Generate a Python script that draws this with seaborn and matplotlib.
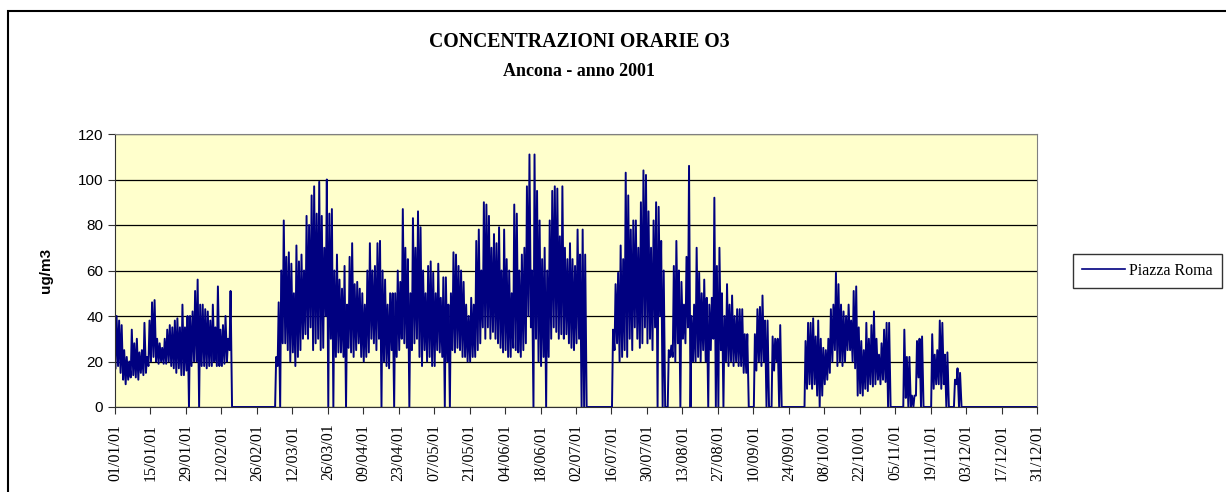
import numpy as np
import pandas as pd
import seaborn as sns
import matplotlib.pyplot as plt
import matplotlib.dates as mdates
from matplotlib.patches import Rectangle

# daily max / min of the hourly O3 values (ug/m3); 0 = no data
max_jan = [40, 38, 36, 25, 22, 20, 34, 28, 30, 24, 25, 37, 22, 38, 46, 47, 30, 28, 26, 30,
           34, 36, 35, 38, 39, 35, 45, 35, 40, 40, 42]
min_jan = [17, 18, 15, 12, 10, 12, 13, 14, 13, 12, 15, 14, 15, 18, 20, 22, 20, 19, 20, 19,
           19, 20, 18, 17, 15, 17, 14, 14, 16, 0, 18]
max_feb = [51, 56, 45, 45, 43, 42, 38, 45, 35, 53, 34, 36, 40, 30, 51,
           0, 0, 0, 0, 0, 0, 0, 0, 0, 0, 0, 0, 0]
min_feb = [20, 20, 0, 18, 18, 17, 18, 18, 20, 18, 18, 18, 19, 20, 25,
           0, 0, 0, 0, 0, 0, 0, 0, 0, 0, 0, 0, 0]
max_mar = [0, 0, 0, 0, 22, 46, 60, 82, 66, 68, 63, 50, 71, 64, 67, 60, 84, 80, 93, 97,
           85, 99, 84, 70, 100, 85, 87, 60, 67, 56, 52]
min_mar = [0, 0, 0, 0, 0, 18, 0, 28, 28, 25, 20, 24, 18, 22, 25, 30, 32, 30, 35, 25,
           28, 30, 25, 26, 40, 0, 30, 0, 22, 24, 24]
max_apr = [62, 45, 66, 72, 54, 55, 52, 50, 45, 60, 72, 60, 62, 72, 73, 60, 56, 45, 50, 50,
           50, 60, 55, 87, 70, 65, 50, 83, 70, 86]
min_apr = [22, 0, 26, 24, 22, 25, 28, 22, 20, 22, 24, 30, 28, 25, 30, 0, 20, 18, 17, 25,
           0, 22, 25, 30, 28, 26, 0, 25, 28, 30]
max_may = [79, 60, 50, 62, 64, 59, 50, 63, 48, 57, 57, 45, 50, 68, 67, 62, 60, 55, 45, 40,
           48, 45, 73, 78, 60, 90, 89, 84, 70, 76, 72]
min_may = [22, 18, 25, 20, 22, 18, 18, 25, 24, 22, 0, 20, 0, 25, 24, 26, 25, 22, 22, 20,
           20, 22, 22, 25, 28, 35, 30, 35, 30, 33, 30]
max_jun = [79, 60, 78, 65, 60, 50, 89, 85, 60, 67, 70, 97, 111, 60, 111, 95, 82, 65, 70, 60,
           82, 95, 97, 96, 75, 97, 70, 65, 72, 65]
min_jun = [28, 26, 24, 25, 22, 22, 26, 25, 24, 22, 25, 28, 40, 35, 0, 30, 20, 18, 22, 0,
           22, 30, 35, 33, 30, 32, 30, 32, 28, 26]
max_jul = [62, 78, 67, 78, 67, 0, 0, 0, 0, 0, 0, 0, 0, 0, 0, 34, 54, 59, 71, 65,
           103, 93, 78, 82, 82, 70, 90, 104, 102, 86, 70]
min_jul = [25, 28, 30, 0, 0, 0, 0, 0, 0, 0, 0, 0, 0, 0, 0, 0, 25, 28, 20, 22,
           25, 22, 30, 25, 35, 30, 26, 28, 35, 28, 30]
max_aug = [82, 90, 88, 73, 60, 0, 25, 27, 62, 73, 60, 55, 45, 66, 106, 40, 45, 70, 59, 50,
           56, 48, 45, 48, 92, 62, 70, 50, 40, 54, 45]
min_aug = [25, 35, 0, 40, 0, 0, 0, 22, 22, 20, 28, 0, 30, 28, 35, 0, 20, 20, 22, 20,
           25, 20, 0, 25, 30, 0, 0, 25, 0, 20, 18]
max_sep = [49, 40, 43, 43, 43, 32, 32, 0, 0, 32, 43, 44, 49, 38, 38, 0, 31, 30, 30, 36,
           0, 0, 0, 0, 0, 0, 0, 0, 0, 29]
min_sep = [20, 18, 20, 18, 18, 15, 15, 0, 0, 0, 16, 20, 18, 20, 0, 0, 0, 16, 20, 0,
           0, 0, 0, 0, 0, 0, 0, 0, 0, 0]
max_oct = [37, 37, 39, 31, 38, 30, 26, 25, 30, 43, 45, 59, 54, 45, 42, 40, 45, 38, 51, 53,
           35, 29, 25, 37, 30, 36, 42, 30, 23, 28, 34]
min_oct = [8, 10, 8, 10, 5, 0, 5, 10, 12, 15, 20, 25, 18, 20, 18, 20, 25, 25, 20, 17,
           5, 6, 5, 8, 7, 10, 9, 10, 12, 10, 12]
max_nov = [37, 37, 0, 0, 0, 0, 0, 34, 22, 22, 5, 5, 29, 30, 31, 0, 0, 0, 32, 23,
           25, 38, 37, 23, 24, 0, 0, 12, 17, 15]
min_nov = [11, 0, 0, 0, 0, 0, 0, 0, 4, 0, 0, 0, 5, 13, 0, 0, 0, 0, 0, 8,
           10, 10, 8, 10, 0, 0, 0, 0, 10, 0]
max_dec = [0, 0, 0, 0, 0, 0, 0, 0, 0, 0, 0, 0, 0, 0, 0, 0, 0, 0, 0, 0,
           0, 0, 0, 0, 0, 0, 0, 0, 0, 0, 0]
min_dec = [0, 0, 0, 0, 0, 0, 0, 0, 0, 0, 0, 0, 0, 0, 0, 0, 0, 0, 0, 0,
           0, 0, 0, 0, 0, 0, 0, 0, 0, 0, 0]

daily_max = np.concatenate([max_jan, max_feb, max_mar, max_apr, max_may, max_jun,
                            max_jul, max_aug, max_sep, max_oct, max_nov, max_dec])
daily_min = np.concatenate([min_jan, min_feb, min_mar, min_apr, min_may, min_jun,
                            min_jul, min_aug, min_sep, min_oct, min_nov, min_dec])

days = pd.date_range('2001-01-01', '2001-12-31', freq='D')
# night minimum then afternoon maximum for every day
t = np.ravel(np.column_stack([(days + pd.Timedelta(hours=5)).values,
                              (days + pd.Timedelta(hours=15)).values]))
v = np.ravel(np.column_stack([daily_min, daily_max]))
df = pd.DataFrame({'time': t, 'O3': v})

fig = plt.figure(figsize=(12.26, 4.92), dpi=100)
ax = fig.add_axes([115 / 1226, 1 - 407 / 492, (1037 - 115) / 1226, (407 - 134) / 492])

sns.lineplot(data=df, x='time', y='O3', ax=ax, color='#000080', linewidth=1.4,
             estimator=None, label='Piazza Roma')

ax.set_facecolor('#FFFFCC')
ax.set_ylim(0, 120)
ax.set_yticks(range(0, 121, 20))
ax.set_xlim(pd.Timestamp('2001-01-01'), pd.Timestamp('2001-12-31'))
ax.set_xticks(pd.date_range('2001-01-01', '2001-12-31', freq='14D'))
ax.xaxis.set_major_formatter(mdates.DateFormatter('%d/%m/%y'))
ax.grid(axis='y', color='black', linewidth=0.9)
ax.set_axisbelow(True)
ax.set_xlabel('')
ax.set_ylabel('')
for s in ['top', 'right']:
    ax.spines[s].set_color('#808080')
for s in ['left', 'bottom']:
    ax.spines[s].set_color('#303030')
ax.tick_params(axis='y', length=5, color='#303030', labelsize=11)
ax.tick_params(axis='x', length=5, color='#303030', labelrotation=90, labelsize=11.5, pad=7)
for lab in ax.get_yticklabels():
    lab.set_family('Liberation Sans')
for lab in ax.get_xticklabels():
    lab.set_family('Liberation Serif')

h, l = ax.get_legend_handles_labels()
ax.get_legend().remove()
leg = fig.legend(h, l, loc='center left', bbox_to_anchor=(1068 / 1226, 1 - 271 / 492),
                 frameon=True, fancybox=False, edgecolor='black', handlelength=2.7,
                 handletextpad=0.3, borderpad=0.55, borderaxespad=0.3,
                 prop={'family': 'Liberation Serif', 'size': 11.5})
leg.get_frame().set_linewidth(1.0)
leg.legend_handles[0].set_linewidth(1.2)

fig.text(579 / 1226, 1 - 42 / 492, 'CONCENTRAZIONI ORARIE O3', ha='center', va='center',
         family='Liberation Serif', weight='bold', size=14.2)
fig.text(579 / 1226, 1 - 72 / 492, 'Ancona - anno 2001', ha='center', va='center',
         family='Liberation Serif', weight='bold', size=13)
fig.text(46 / 1226, 1 - 270 / 492, 'ug/m3', ha='center', va='center', rotation=90,
         family='Liberation Sans', weight='bold', size=11)

fig.patches.append(Rectangle((7.5 / 1226, -0.1), 1.2, 1.1 - 10.5 / 492, transform=fig.transFigure,
                             fill=False, edgecolor='black', linewidth=1.5))

fig.savefig('out.png', dpi=100)
